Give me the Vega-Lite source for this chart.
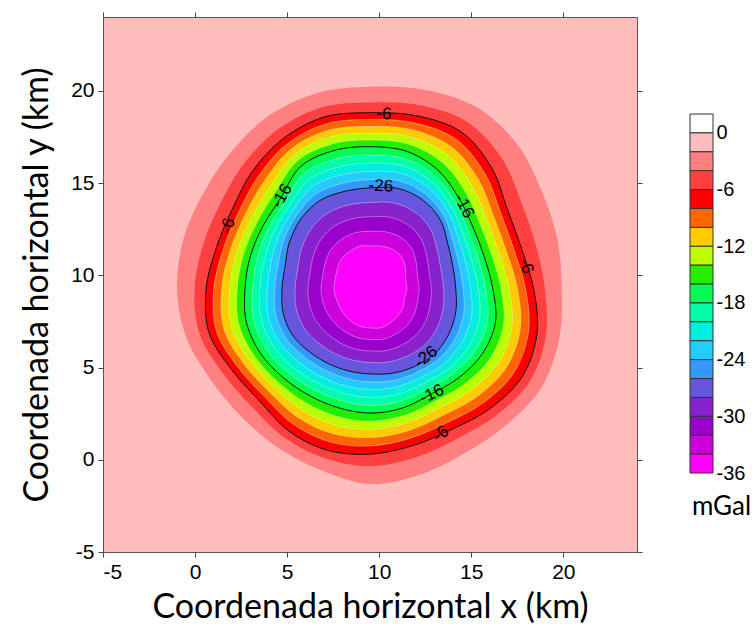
{
  "$schema": "https://vega.github.io/schema/vega-lite/v6.json",
  "padding": {"left": 20, "top": 11, "right": 0, "bottom": 0},
  "spacing": 46,
  "background": "white",
  "config": {
    "font": "Liberation Sans",
    "axis": {"labelFont": "Liberation Sans", "labelFontSize": 21, "labelColor": "#000", "tickColor": "#444", "tickSize": 5, "domain": false, "grid": false, "titleFont": "Lato", "titleFontSize": 34, "titleFontWeight": "normal", "titleColor": "#000", "labelPadding": 4, "labelExpr": "toString(datum.value)"}
  },
  "datasets": {
    "polys": [
      {"v":-2,"i":0,"x":19.91,"y":9.26},{"v":-2,"i":1,"x":19.67,"y":11.97},{"v":-2,"i":2,"x":18.81,"y":14.61},{"v":-2,"i":3,"x":17.45,"y":17.16},{"v":-2,"i":4,"x":15.25,"y":19.13},{"v":-2,"i":5,"x":12.44,"y":20.06},{"v":-2,"i":6,"x":9.55,"y":20.22},{"v":-2,"i":7,"x":6.70,"y":19.90},{"v":-2,"i":8,"x":4.10,"y":18.71},{"v":-2,"i":9,"x":2.03,"y":16.78},{"v":-2,"i":10,"x":0.48,"y":14.50},{"v":-2,"i":11,"x":-0.62,"y":11.99},{"v":-2,"i":12,"x":-0.98,"y":9.26},{"v":-2,"i":13,"x":-0.46,"y":6.58},{"v":-2,"i":14,"x":0.90,"y":4.27},{"v":-2,"i":15,"x":2.57,"y":2.28},{"v":-2,"i":16,"x":4.56,"y":0.61},{"v":-2,"i":17,"x":6.91,"y":-0.59},{"v":-2,"i":18,"x":9.55,"y":-1.32},{"v":-2,"i":19,"x":12.25,"y":-0.80},{"v":-2,"i":20,"x":14.68,"y":0.38},{"v":-2,"i":21,"x":16.92,"y":1.90},{"v":-2,"i":22,"x":18.81,"y":3.92},{"v":-2,"i":23,"x":19.77,"y":6.52},
      {"v":-4,"i":0,"x":19.00,"y":9.26},{"v":-4,"i":1,"x":18.50,"y":11.66},{"v":-4,"i":2,"x":17.71,"y":13.97},{"v":-4,"i":3,"x":16.65,"y":16.36},{"v":-4,"i":4,"x":14.78,"y":18.31},{"v":-4,"i":5,"x":12.22,"y":19.21},{"v":-4,"i":6,"x":9.55,"y":19.37},{"v":-4,"i":7,"x":6.91,"y":19.11},{"v":-4,"i":8,"x":4.54,"y":17.94},{"v":-4,"i":9,"x":2.70,"y":16.11},{"v":-4,"i":10,"x":1.41,"y":13.96},{"v":-4,"i":11,"x":0.45,"y":11.70},{"v":-4,"i":12,"x":-0.03,"y":9.26},{"v":-4,"i":13,"x":0.26,"y":6.77},{"v":-4,"i":14,"x":1.55,"y":4.64},{"v":-4,"i":15,"x":3.12,"y":2.83},{"v":-4,"i":16,"x":4.88,"y":1.18},{"v":-4,"i":17,"x":7.09,"y":0.07},{"v":-4,"i":18,"x":9.55,"y":-0.34},{"v":-4,"i":19,"x":12.00,"y":0.14},{"v":-4,"i":20,"x":14.24,"y":1.14},{"v":-4,"i":21,"x":16.39,"y":2.42},{"v":-4,"i":22,"x":18.19,"y":4.27},{"v":-4,"i":23,"x":19.05,"y":6.71},
      {"v":-6,"i":0,"x":18.39,"y":9.26},{"v":-6,"i":1,"x":17.73,"y":11.45},{"v":-6,"i":2,"x":16.97,"y":13.55},{"v":-6,"i":3,"x":16.11,"y":15.82},{"v":-6,"i":4,"x":14.46,"y":17.77},{"v":-6,"i":5,"x":12.07,"y":18.64},{"v":-6,"i":6,"x":9.55,"y":18.81},{"v":-6,"i":7,"x":7.05,"y":18.59},{"v":-6,"i":8,"x":4.83,"y":17.44},{"v":-6,"i":9,"x":3.14,"y":15.67},{"v":-6,"i":10,"x":2.03,"y":13.60},{"v":-6,"i":11,"x":1.16,"y":11.51},{"v":-6,"i":12,"x":0.60,"y":9.26},{"v":-6,"i":13,"x":0.75,"y":6.90},{"v":-6,"i":14,"x":1.98,"y":4.89},{"v":-6,"i":15,"x":3.49,"y":3.20},{"v":-6,"i":16,"x":5.10,"y":1.55},{"v":-6,"i":17,"x":7.20,"y":0.51},{"v":-6,"i":18,"x":9.55,"y":0.31},{"v":-6,"i":19,"x":11.83,"y":0.77},{"v":-6,"i":20,"x":13.95,"y":1.65},{"v":-6,"i":21,"x":16.03,"y":2.78},{"v":-6,"i":22,"x":17.77,"y":4.51},{"v":-6,"i":23,"x":18.57,"y":6.84},
      {"v":-8,"i":0,"x":17.95,"y":9.26},{"v":-8,"i":1,"x":17.33,"y":11.35},{"v":-8,"i":2,"x":16.61,"y":13.34},{"v":-8,"i":3,"x":15.76,"y":15.47},{"v":-8,"i":4,"x":14.22,"y":17.34},{"v":-8,"i":5,"x":11.96,"y":18.25},{"v":-8,"i":6,"x":9.55,"y":18.44},{"v":-8,"i":7,"x":7.15,"y":18.22},{"v":-8,"i":8,"x":5.01,"y":17.13},{"v":-8,"i":9,"x":3.44,"y":15.37},{"v":-8,"i":10,"x":2.36,"y":13.41},{"v":-8,"i":11,"x":1.53,"y":11.41},{"v":-8,"i":12,"x":1.02,"y":9.26},{"v":-8,"i":13,"x":1.15,"y":7.01},{"v":-8,"i":14,"x":2.29,"y":5.07},{"v":-8,"i":15,"x":3.74,"y":3.45},{"v":-8,"i":16,"x":5.32,"y":1.94},{"v":-8,"i":17,"x":7.33,"y":0.97},{"v":-8,"i":18,"x":9.55,"y":0.75},{"v":-8,"i":19,"x":11.72,"y":1.18},{"v":-8,"i":20,"x":13.72,"y":2.03},{"v":-8,"i":21,"x":15.70,"y":3.12},{"v":-8,"i":22,"x":17.34,"y":4.76},{"v":-8,"i":23,"x":18.11,"y":6.96},
      {"v":-10,"i":0,"x":17.51,"y":9.26},{"v":-10,"i":1,"x":16.93,"y":11.24},{"v":-10,"i":2,"x":16.24,"y":13.12},{"v":-10,"i":3,"x":15.42,"y":15.13},{"v":-10,"i":4,"x":13.97,"y":16.92},{"v":-10,"i":5,"x":11.86,"y":17.87},{"v":-10,"i":6,"x":9.55,"y":18.07},{"v":-10,"i":7,"x":7.25,"y":17.86},{"v":-10,"i":8,"x":5.19,"y":16.82},{"v":-10,"i":9,"x":3.74,"y":15.07},{"v":-10,"i":10,"x":2.69,"y":13.22},{"v":-10,"i":11,"x":1.90,"y":11.31},{"v":-10,"i":12,"x":1.44,"y":9.26},{"v":-10,"i":13,"x":1.56,"y":7.12},{"v":-10,"i":14,"x":2.61,"y":5.25},{"v":-10,"i":15,"x":4.00,"y":3.71},{"v":-10,"i":16,"x":5.55,"y":2.32},{"v":-10,"i":17,"x":7.45,"y":1.43},{"v":-10,"i":18,"x":9.55,"y":1.20},{"v":-10,"i":19,"x":11.61,"y":1.59},{"v":-10,"i":20,"x":13.50,"y":2.42},{"v":-10,"i":21,"x":15.36,"y":3.45},{"v":-10,"i":22,"x":16.91,"y":5.01},{"v":-10,"i":23,"x":17.66,"y":7.09},
      {"v":-12,"i":0,"x":17.06,"y":9.26},{"v":-12,"i":1,"x":16.53,"y":11.13},{"v":-12,"i":2,"x":15.88,"y":12.91},{"v":-12,"i":3,"x":15.07,"y":14.78},{"v":-12,"i":4,"x":13.73,"y":16.50},{"v":-12,"i":5,"x":11.75,"y":17.48},{"v":-12,"i":6,"x":9.55,"y":17.70},{"v":-12,"i":7,"x":7.34,"y":17.49},{"v":-12,"i":8,"x":5.37,"y":16.51},{"v":-12,"i":9,"x":4.04,"y":14.77},{"v":-12,"i":10,"x":3.02,"y":13.03},{"v":-12,"i":11,"x":2.26,"y":11.21},{"v":-12,"i":12,"x":1.87,"y":9.26},{"v":-12,"i":13,"x":1.97,"y":7.23},{"v":-12,"i":14,"x":2.92,"y":5.43},{"v":-12,"i":15,"x":4.25,"y":3.96},{"v":-12,"i":16,"x":5.77,"y":2.71},{"v":-12,"i":17,"x":7.57,"y":1.89},{"v":-12,"i":18,"x":9.55,"y":1.64},{"v":-12,"i":19,"x":11.50,"y":2.00},{"v":-12,"i":20,"x":13.28,"y":2.80},{"v":-12,"i":21,"x":15.02,"y":3.79},{"v":-12,"i":22,"x":16.48,"y":5.26},{"v":-12,"i":23,"x":17.21,"y":7.21},
      {"v":-14,"i":0,"x":16.62,"y":9.26},{"v":-14,"i":1,"x":16.13,"y":11.03},{"v":-14,"i":2,"x":15.51,"y":12.70},{"v":-14,"i":3,"x":14.73,"y":14.44},{"v":-14,"i":4,"x":13.48,"y":16.07},{"v":-14,"i":5,"x":11.65,"y":17.09},{"v":-14,"i":6,"x":9.55,"y":17.33},{"v":-14,"i":7,"x":7.44,"y":17.12},{"v":-14,"i":8,"x":5.55,"y":16.20},{"v":-14,"i":9,"x":4.34,"y":14.47},{"v":-14,"i":10,"x":3.35,"y":12.84},{"v":-14,"i":11,"x":2.63,"y":11.12},{"v":-14,"i":12,"x":2.29,"y":9.26},{"v":-14,"i":13,"x":2.38,"y":7.34},{"v":-14,"i":14,"x":3.23,"y":5.61},{"v":-14,"i":15,"x":4.50,"y":4.21},{"v":-14,"i":16,"x":5.99,"y":3.10},{"v":-14,"i":17,"x":7.70,"y":2.35},{"v":-14,"i":18,"x":9.55,"y":2.09},{"v":-14,"i":19,"x":11.39,"y":2.41},{"v":-14,"i":20,"x":13.06,"y":3.19},{"v":-14,"i":21,"x":14.68,"y":4.13},{"v":-14,"i":22,"x":16.04,"y":5.51},{"v":-14,"i":23,"x":16.76,"y":7.33},
      {"v":-16,"i":0,"x":16.17,"y":9.26},{"v":-16,"i":1,"x":15.73,"y":10.92},{"v":-16,"i":2,"x":15.14,"y":12.49},{"v":-16,"i":3,"x":14.38,"y":14.09},{"v":-16,"i":4,"x":13.24,"y":15.65},{"v":-16,"i":5,"x":11.55,"y":16.70},{"v":-16,"i":6,"x":9.55,"y":16.97},{"v":-16,"i":7,"x":7.54,"y":16.76},{"v":-16,"i":8,"x":5.73,"y":15.89},{"v":-16,"i":9,"x":4.64,"y":14.17},{"v":-16,"i":10,"x":3.68,"y":12.65},{"v":-16,"i":11,"x":3.00,"y":11.02},{"v":-16,"i":12,"x":2.71,"y":9.26},{"v":-16,"i":13,"x":2.79,"y":7.45},{"v":-16,"i":14,"x":3.54,"y":5.79},{"v":-16,"i":15,"x":4.76,"y":4.47},{"v":-16,"i":16,"x":6.21,"y":3.48},{"v":-16,"i":17,"x":7.82,"y":2.81},{"v":-16,"i":18,"x":9.55,"y":2.53},{"v":-16,"i":19,"x":11.28,"y":2.81},{"v":-16,"i":20,"x":12.83,"y":3.57},{"v":-16,"i":21,"x":14.35,"y":4.47},{"v":-16,"i":22,"x":15.61,"y":5.76},{"v":-16,"i":23,"x":16.31,"y":7.45},
      {"v":-18,"i":0,"x":15.77,"y":9.26},{"v":-18,"i":1,"x":15.39,"y":10.83},{"v":-18,"i":2,"x":14.86,"y":12.33},{"v":-18,"i":3,"x":14.17,"y":13.88},{"v":-18,"i":4,"x":13.06,"y":15.34},{"v":-18,"i":5,"x":11.44,"y":16.30},{"v":-18,"i":6,"x":9.55,"y":16.52},{"v":-18,"i":7,"x":7.66,"y":16.31},{"v":-18,"i":8,"x":5.94,"y":15.52},{"v":-18,"i":9,"x":4.86,"y":13.95},{"v":-18,"i":10,"x":3.97,"y":12.48},{"v":-18,"i":11,"x":3.38,"y":10.92},{"v":-18,"i":12,"x":3.12,"y":9.26},{"v":-18,"i":13,"x":3.19,"y":7.55},{"v":-18,"i":14,"x":3.88,"y":5.99},{"v":-18,"i":15,"x":5.04,"y":4.75},{"v":-18,"i":16,"x":6.41,"y":3.83},{"v":-18,"i":17,"x":7.93,"y":3.21},{"v":-18,"i":18,"x":9.55,"y":2.95},{"v":-18,"i":19,"x":11.18,"y":3.19},{"v":-18,"i":20,"x":12.66,"y":3.87},{"v":-18,"i":21,"x":14.08,"y":4.73},{"v":-18,"i":22,"x":15.25,"y":5.97},{"v":-18,"i":23,"x":15.88,"y":7.56},
      {"v":-20,"i":0,"x":15.37,"y":9.26},{"v":-20,"i":1,"x":15.04,"y":10.73},{"v":-20,"i":2,"x":14.58,"y":12.16},{"v":-20,"i":3,"x":13.95,"y":13.66},{"v":-20,"i":4,"x":12.88,"y":15.03},{"v":-20,"i":5,"x":11.33,"y":15.91},{"v":-20,"i":6,"x":9.55,"y":16.08},{"v":-20,"i":7,"x":7.78,"y":15.87},{"v":-20,"i":8,"x":6.15,"y":15.15},{"v":-20,"i":9,"x":5.09,"y":13.73},{"v":-20,"i":10,"x":4.26,"y":12.32},{"v":-20,"i":11,"x":3.75,"y":10.81},{"v":-20,"i":12,"x":3.52,"y":9.26},{"v":-20,"i":13,"x":3.59,"y":7.66},{"v":-20,"i":14,"x":4.23,"y":6.19},{"v":-20,"i":15,"x":5.32,"y":5.03},{"v":-20,"i":16,"x":6.61,"y":4.18},{"v":-20,"i":17,"x":8.04,"y":3.61},{"v":-20,"i":18,"x":9.55,"y":3.38},{"v":-20,"i":19,"x":11.08,"y":3.57},{"v":-20,"i":20,"x":12.49,"y":4.18},{"v":-20,"i":21,"x":13.82,"y":4.99},{"v":-20,"i":22,"x":14.88,"y":6.18},{"v":-20,"i":23,"x":15.45,"y":7.68},
      {"v":-22,"i":0,"x":14.97,"y":9.26},{"v":-22,"i":1,"x":14.70,"y":10.64},{"v":-22,"i":2,"x":14.30,"y":12.00},{"v":-22,"i":3,"x":13.74,"y":13.45},{"v":-22,"i":4,"x":12.70,"y":14.72},{"v":-22,"i":5,"x":11.23,"y":15.51},{"v":-22,"i":6,"x":9.55,"y":15.63},{"v":-22,"i":7,"x":7.90,"y":15.43},{"v":-22,"i":8,"x":6.36,"y":14.79},{"v":-22,"i":9,"x":5.31,"y":13.50},{"v":-22,"i":10,"x":4.55,"y":12.15},{"v":-22,"i":11,"x":4.13,"y":10.71},{"v":-22,"i":12,"x":3.92,"y":9.26},{"v":-22,"i":13,"x":3.98,"y":7.77},{"v":-22,"i":14,"x":4.58,"y":6.39},{"v":-22,"i":15,"x":5.61,"y":5.32},{"v":-22,"i":16,"x":6.82,"y":4.52},{"v":-22,"i":17,"x":8.14,"y":4.01},{"v":-22,"i":18,"x":9.55,"y":3.80},{"v":-22,"i":19,"x":10.98,"y":3.95},{"v":-22,"i":20,"x":12.31,"y":4.48},{"v":-22,"i":21,"x":13.56,"y":5.25},{"v":-22,"i":22,"x":14.51,"y":6.40},{"v":-22,"i":23,"x":15.02,"y":7.79},
      {"v":-24,"i":0,"x":14.56,"y":9.26},{"v":-24,"i":1,"x":14.35,"y":10.55},{"v":-24,"i":2,"x":14.01,"y":11.84},{"v":-24,"i":3,"x":13.52,"y":13.23},{"v":-24,"i":4,"x":12.52,"y":14.41},{"v":-24,"i":5,"x":11.12,"y":15.11},{"v":-24,"i":6,"x":9.55,"y":15.19},{"v":-24,"i":7,"x":8.01,"y":14.99},{"v":-24,"i":8,"x":6.57,"y":14.42},{"v":-24,"i":9,"x":5.53,"y":13.28},{"v":-24,"i":10,"x":4.84,"y":11.98},{"v":-24,"i":11,"x":4.51,"y":10.61},{"v":-24,"i":12,"x":4.32,"y":9.26},{"v":-24,"i":13,"x":4.38,"y":7.87},{"v":-24,"i":14,"x":4.93,"y":6.59},{"v":-24,"i":15,"x":5.89,"y":5.60},{"v":-24,"i":16,"x":7.02,"y":4.87},{"v":-24,"i":17,"x":8.25,"y":4.41},{"v":-24,"i":18,"x":9.55,"y":4.22},{"v":-24,"i":19,"x":10.87,"y":4.32},{"v":-24,"i":20,"x":12.14,"y":4.78},{"v":-24,"i":21,"x":13.30,"y":5.51},{"v":-24,"i":22,"x":14.15,"y":6.61},{"v":-24,"i":23,"x":14.59,"y":7.91},
      {"v":-26,"i":0,"x":14.16,"y":9.26},{"v":-26,"i":1,"x":14.01,"y":10.45},{"v":-26,"i":2,"x":13.73,"y":11.68},{"v":-26,"i":3,"x":13.31,"y":13.02},{"v":-26,"i":4,"x":12.34,"y":14.10},{"v":-26,"i":5,"x":11.01,"y":14.71},{"v":-26,"i":6,"x":9.55,"y":14.74},{"v":-26,"i":7,"x":8.13,"y":14.55},{"v":-26,"i":8,"x":6.78,"y":14.05},{"v":-26,"i":9,"x":5.75,"y":13.06},{"v":-26,"i":10,"x":5.13,"y":11.81},{"v":-26,"i":11,"x":4.89,"y":10.51},{"v":-26,"i":12,"x":4.72,"y":9.26},{"v":-26,"i":13,"x":4.78,"y":7.98},{"v":-26,"i":14,"x":5.27,"y":6.79},{"v":-26,"i":15,"x":6.17,"y":5.88},{"v":-26,"i":16,"x":7.22,"y":5.22},{"v":-26,"i":17,"x":8.36,"y":4.81},{"v":-26,"i":18,"x":9.55,"y":4.65},{"v":-26,"i":19,"x":10.77,"y":4.70},{"v":-26,"i":20,"x":11.97,"y":5.08},{"v":-26,"i":21,"x":13.04,"y":5.77},{"v":-26,"i":22,"x":13.78,"y":6.82},{"v":-26,"i":23,"x":14.16,"y":8.02},
      {"v":-28,"i":0,"x":13.50,"y":9.26},{"v":-28,"i":1,"x":13.36,"y":10.28},{"v":-28,"i":2,"x":13.16,"y":11.34},{"v":-28,"i":3,"x":12.79,"y":12.50},{"v":-28,"i":4,"x":11.95,"y":13.42},{"v":-28,"i":5,"x":10.80,"y":13.92},{"v":-28,"i":6,"x":9.55,"y":13.95},{"v":-28,"i":7,"x":8.33,"y":13.81},{"v":-28,"i":8,"x":7.18,"y":13.36},{"v":-28,"i":9,"x":6.30,"y":12.51},{"v":-28,"i":10,"x":5.78,"y":11.44},{"v":-28,"i":11,"x":5.57,"y":10.33},{"v":-28,"i":12,"x":5.43,"y":9.26},{"v":-28,"i":13,"x":5.50,"y":8.17},{"v":-28,"i":14,"x":5.92,"y":7.16},{"v":-28,"i":15,"x":6.66,"y":6.37},{"v":-28,"i":16,"x":7.54,"y":5.78},{"v":-28,"i":17,"x":8.52,"y":5.41},{"v":-28,"i":18,"x":9.55,"y":5.27},{"v":-28,"i":19,"x":10.61,"y":5.32},{"v":-28,"i":20,"x":11.63,"y":5.67},{"v":-28,"i":21,"x":12.53,"y":6.28},{"v":-28,"i":22,"x":13.16,"y":7.18},{"v":-28,"i":23,"x":13.47,"y":8.21},
      {"v":-30,"i":0,"x":12.83,"y":9.26},{"v":-30,"i":1,"x":12.72,"y":10.11},{"v":-30,"i":2,"x":12.58,"y":11.01},{"v":-30,"i":3,"x":12.27,"y":11.98},{"v":-30,"i":4,"x":11.56,"y":12.74},{"v":-30,"i":5,"x":10.59,"y":13.14},{"v":-30,"i":6,"x":9.55,"y":13.17},{"v":-30,"i":7,"x":8.53,"y":13.06},{"v":-30,"i":8,"x":7.58,"y":12.67},{"v":-30,"i":9,"x":6.85,"y":11.96},{"v":-30,"i":10,"x":6.43,"y":11.06},{"v":-30,"i":11,"x":6.25,"y":10.15},{"v":-30,"i":12,"x":6.13,"y":9.26},{"v":-30,"i":13,"x":6.22,"y":8.37},{"v":-30,"i":14,"x":6.57,"y":7.54},{"v":-30,"i":15,"x":7.15,"y":6.86},{"v":-30,"i":16,"x":7.87,"y":6.35},{"v":-30,"i":17,"x":8.68,"y":6.01},{"v":-30,"i":18,"x":9.55,"y":5.90},{"v":-30,"i":19,"x":10.44,"y":5.93},{"v":-30,"i":20,"x":11.29,"y":6.25},{"v":-30,"i":21,"x":12.02,"y":6.79},{"v":-30,"i":22,"x":12.53,"y":7.54},{"v":-30,"i":23,"x":12.77,"y":8.40},
      {"v":-32,"i":0,"x":12.17,"y":9.26},{"v":-32,"i":1,"x":12.08,"y":9.94},{"v":-32,"i":2,"x":12.01,"y":10.68},{"v":-32,"i":3,"x":11.76,"y":11.47},{"v":-32,"i":4,"x":11.16,"y":12.06},{"v":-32,"i":5,"x":10.38,"y":12.35},{"v":-32,"i":6,"x":9.55,"y":12.38},{"v":-32,"i":7,"x":8.73,"y":12.31},{"v":-32,"i":8,"x":7.98,"y":11.97},{"v":-32,"i":9,"x":7.39,"y":11.42},{"v":-32,"i":10,"x":7.07,"y":10.69},{"v":-32,"i":11,"x":6.93,"y":9.96},{"v":-32,"i":12,"x":6.84,"y":9.26},{"v":-32,"i":13,"x":6.94,"y":8.56},{"v":-32,"i":14,"x":7.21,"y":7.91},{"v":-32,"i":15,"x":7.64,"y":7.35},{"v":-32,"i":16,"x":8.19,"y":6.91},{"v":-32,"i":17,"x":8.84,"y":6.61},{"v":-32,"i":18,"x":9.55,"y":6.52},{"v":-32,"i":19,"x":10.28,"y":6.55},{"v":-32,"i":20,"x":10.95,"y":6.84},{"v":-32,"i":21,"x":11.52,"y":7.29},{"v":-32,"i":22,"x":11.91,"y":7.90},{"v":-32,"i":23,"x":12.08,"y":8.58},
      {"v":-34,"i":0,"x":11.50,"y":9.26},{"v":-34,"i":1,"x":11.44,"y":9.77},{"v":-34,"i":2,"x":11.43,"y":10.35},{"v":-34,"i":3,"x":11.24,"y":10.95},{"v":-34,"i":4,"x":10.77,"y":11.38},{"v":-34,"i":5,"x":10.17,"y":11.57},{"v":-34,"i":6,"x":9.55,"y":11.59},{"v":-34,"i":7,"x":8.93,"y":11.57},{"v":-34,"i":8,"x":8.38,"y":11.28},{"v":-34,"i":9,"x":7.94,"y":10.87},{"v":-34,"i":10,"x":7.72,"y":10.32},{"v":-34,"i":11,"x":7.61,"y":9.78},{"v":-34,"i":12,"x":7.54,"y":9.26},{"v":-34,"i":13,"x":7.66,"y":8.75},{"v":-34,"i":14,"x":7.86,"y":8.28},{"v":-34,"i":15,"x":8.13,"y":7.84},{"v":-34,"i":16,"x":8.52,"y":7.47},{"v":-34,"i":17,"x":9.00,"y":7.22},{"v":-34,"i":18,"x":9.55,"y":7.14},{"v":-34,"i":19,"x":10.11,"y":7.16},{"v":-34,"i":20,"x":10.61,"y":7.43},{"v":-34,"i":21,"x":11.01,"y":7.80},{"v":-34,"i":22,"x":11.29,"y":8.26},{"v":-34,"i":23,"x":11.38,"y":8.77}
    ],
    "labels": [
      {"t":"-6","x":10.26,"y":18.74,"a":3},
      {"t":"-6","x":1.79,"y":12.67,"a":-72},
      {"t":"-6","x":17.96,"y":10.5,"a":70},
      {"t":"-6","x":13.35,"y":1.40,"a":-40},
      {"t":"-16","x":4.72,"y":14.30,"a":-60},
      {"t":"-16","x":14.6,"y":13.75,"a":62},
      {"t":"-16","x":12.86,"y":3.56,"a":-25},
      {"t":"-26","x":10.09,"y":14.84,"a":3},
      {"t":"-26","x":12.54,"y":5.57,"a":-38}
    ],
    "bands": [
      {"v":2,"lo":0,"hi":2},{"v":0,"lo":-2,"hi":0},{"v":-2,"lo":-4,"hi":-2},{"v":-4,"lo":-6,"hi":-4},{"v":-6,"lo":-8,"hi":-6},{"v":-8,"lo":-10,"hi":-8},{"v":-10,"lo":-12,"hi":-10},{"v":-12,"lo":-14,"hi":-12},{"v":-14,"lo":-16,"hi":-14},{"v":-16,"lo":-18,"hi":-16},{"v":-18,"lo":-20,"hi":-18},{"v":-20,"lo":-22,"hi":-20},{"v":-22,"lo":-24,"hi":-22},{"v":-24,"lo":-26,"hi":-24},{"v":-26,"lo":-28,"hi":-26},{"v":-28,"lo":-30,"hi":-28},{"v":-30,"lo":-32,"hi":-30},{"v":-32,"lo":-34,"hi":-32},{"v":-34,"lo":-36,"hi":-34}
    ],
    "unit": [{"t":"mGal","y":-39.6}]
  },
  "hconcat": [
    {
      "width": 534,
      "height": 535,
      "view": {"fill": "#ffbdbd", "stroke": "#555555", "strokeWidth": 1},
      "resolve": {"axis": {"x": "independent", "y": "independent"}},
      "layer": [
        {
          "data": {"name": "polys"},
          "mark": {"type": "line", "interpolate": "cardinal-closed", "strokeWidth": 0, "clip": true},
          "encoding": {
            "x": {"field": "x", "type": "quantitative", "scale": {"domain": [-5, 24], "nice": false, "zero": false}, "axis": {"orient": "bottom", "values": [-5, 0, 5, 10, 15, 20], "title": "Coordenada horizontal x (km)", "titlePadding": 8}},
            "y": {"field": "y", "type": "quantitative", "scale": {"domain": [-5, 24], "nice": false, "zero": false}, "axis": {"orient": "left", "values": [-5, 0, 5, 10, 15, 20], "title": "Coordenada horizontal y (km)", "titlePadding": 16}},
            "order": {"field": "i", "type": "quantitative"},
            "detail": {"field": "v", "type": "nominal"},
            "fill": {"field": "v", "type": "ordinal", "legend": null,
              "scale": {"domain": [2,0,-2,-4,-6,-8,-10,-12,-14,-16,-18,-20,-22,-24,-26,-28,-30,-32,-34],
                        "range": ["#ffffff","#ffbdbd","#ff8080","#ff4040","#ff0000","#ff6600","#ffcc00","#bbff00","#22ee00","#00ff55","#00ffaa","#00eedd","#22ccff","#3399ff","#6655dd","#8822cc","#9900cc","#cc00dd","#ff00ff"]}}
          }
        },
        {
          "data": {"name": "polys"},
          "transform": [{"filter": "datum.v <= -8 && datum.v != -16 && datum.v != -26"}],
          "mark": {"type": "line", "interpolate": "cardinal-closed", "stroke": "#eeeeee", "strokeWidth": 0.8, "strokeOpacity": 0.5},
          "encoding": {
            "x": {"field": "x", "type": "quantitative", "axis": null},
            "y": {"field": "y", "type": "quantitative", "axis": null},
            "order": {"field": "i", "type": "quantitative"},
            "detail": {"field": "v", "type": "nominal"}
          }
        },
        {
          "data": {"name": "polys"},
          "transform": [{"filter": "datum.v == -6 || datum.v == -16 || datum.v == -26"}],
          "mark": {"type": "line", "interpolate": "cardinal-closed", "stroke": "#111111", "strokeWidth": 1},
          "encoding": {
            "x": {"field": "x", "type": "quantitative", "axis": null},
            "y": {"field": "y", "type": "quantitative", "axis": null},
            "order": {"field": "i", "type": "quantitative"},
            "detail": {"field": "v", "type": "nominal"}
          }
        },
        {
          "data": {"name": "labels"},
          "mark": {"type": "text", "font": "Liberation Sans", "fontSize": 17, "color": "#000", "align": "center", "baseline": "middle"},
          "encoding": {
            "x": {"field": "x", "type": "quantitative", "axis": {"orient": "top", "values": [-5, 0, 5, 10, 15, 20], "labels": false, "title": null}},
            "y": {"field": "y", "type": "quantitative", "axis": {"orient": "right", "values": [-5, 0, 5, 10, 15, 20], "labels": false, "title": null}},
            "text": {"field": "t"},
            "angle": {"field": "a", "type": "quantitative", "scale": null}
          }
        }
      ]
    },
    {
      "width": 23,
      "height": 535,
      "view": {"stroke": null},
      "layer": [
        {
          "data": {"name": "bands"},
          "mark": {"type": "rect", "stroke": "#333333", "strokeWidth": 1},
          "encoding": {
            "y": {"field": "lo", "type": "quantitative", "scale": {"domain": [-44.36, 12.27], "nice": false, "zero": false}, "axis": {"orient": "right", "values": [0, -6, -12, -18, -24, -30, -36], "ticks": false, "domain": false, "labelPadding": 3, "labelFontSize": 20, "title": null}},
            "y2": {"field": "hi"},
            "fill": {"field": "v", "type": "ordinal", "legend": null,
              "scale": {"domain": [2,0,-2,-4,-6,-8,-10,-12,-14,-16,-18,-20,-22,-24,-26,-28,-30,-32,-34],
                        "range": ["#ffffff","#ffbdbd","#ff8080","#ff4040","#ff0000","#ff6600","#ffcc00","#bbff00","#22ee00","#00ff55","#00ffaa","#00eedd","#22ccff","#3399ff","#6655dd","#8822cc","#9900cc","#cc00dd","#ff00ff"]}}
          }
        },
        {
          "data": {"name": "unit"},
          "mark": {"type": "text", "font": "Lato", "fontSize": 26, "color": "#000", "align": "center", "baseline": "middle", "dx": 20},
          "encoding": {
            "y": {"field": "y", "type": "quantitative"},
            "text": {"field": "t"}
          }
        }
      ]
    }
  ]
}
